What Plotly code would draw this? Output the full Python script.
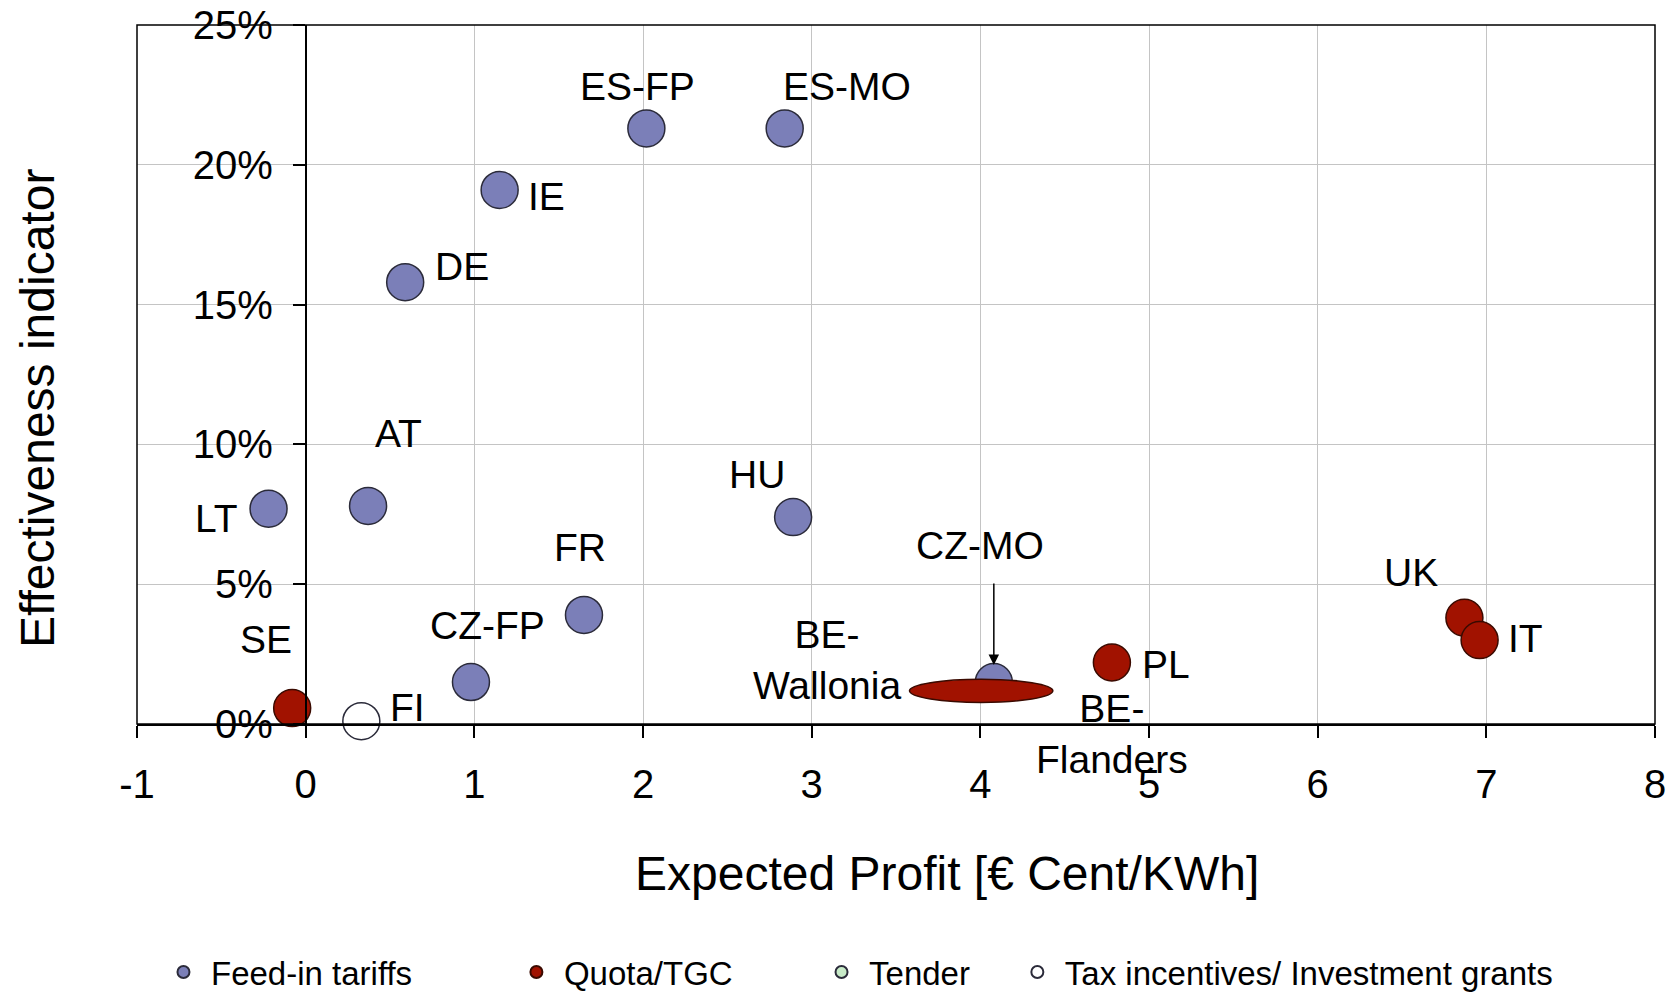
import plotly.graph_objects as go

# ---------------- data ----------------
fit_names = ["ES-FP", "ES-MO", "IE", "DE", "AT", "LT", "HU", "FR", "CZ-FP", "CZ-MO"]
fit_profit = [2.02, 2.84, 1.15, 0.59, 0.37, -0.22, 2.89, 1.65, 0.98, 4.08]
fit_effect = [0.213, 0.213, 0.191, 0.158, 0.078, 0.077, 0.074, 0.039, 0.015, 0.015]

quota_names = ["SE", "PL", "UK", "IT"]
quota_profit = [-0.08, 4.78, 6.87, 6.96]
quota_effect = [0.0057, 0.022, 0.038, 0.030]

tax_names = ["FI"]
tax_profit = [0.33]
tax_effect = [0.001]

# BE regions (Quota/TGC) drawn as one elongated ellipse spanning this range
be_names = ["BE-<br>Wallonia", "BE-<br>Flanders"]
be_profit_range = [3.58, 4.43]
be_effect_range = [0.0077, 0.016]

x_ticks = [-1, 0, 1, 2, 3, 4, 5, 6, 7, 8]
x_ticktext = ["-1", "0", "1", "2", "3", "4", "5", "6", "7", "8"]
y_ticks = [0, 0.05, 0.10, 0.15, 0.20, 0.25]

legend_names = ["Feed-in tariffs", "Quota/TGC", "Tender", "Tax incentives/ Investment grants"]

# ---------------- styles ----------------
FONT = "Liberation Sans, Arial, sans-serif"
C_FIT = "#7b7fb8"
C_QUOTA = "#a11200"
C_TENDER = "#c8ebc8"
C_TAX = "#ffffff"
EDGE = "#2b2b3a"
MSIZE = 37
LBL = 39

# label pixel offsets (dx, dy) relative to each point
label_off = {
    "ES-FP": (-9, 42), "ES-MO": (62, 42), "IE": (47, -7), "DE": (57, 16),
    "AT": (30, 72), "LT": (-52, -10), "HU": (-36, 43), "FR": (-4, 67),
    "CZ-FP": (17, 57), "SE": (-26, 69), "FI": (46, 14), "PL": (54, -2),
    "UK": (-53, 45), "IT": (46, 2), "CZ-MO": (-14, 137),
}
be_label_off = [(-154, 31), (131, -43)]

fig = go.Figure()

fig.add_trace(go.Scatter(
    x=fit_profit, y=fit_effect, mode="markers", name=legend_names[0],
    marker=dict(size=MSIZE, color=C_FIT, line=dict(color=EDGE, width=1.5)),
    cliponaxis=False, legend="legend"))
fig.add_trace(go.Scatter(
    x=quota_profit, y=quota_effect, mode="markers", name=legend_names[1],
    marker=dict(size=MSIZE, color=C_QUOTA, line=dict(color="#3a0a00", width=1.5)),
    cliponaxis=False, legend="legend2"))
fig.add_trace(go.Scatter(
    x=[None], y=[None], mode="markers", name=legend_names[2],
    marker=dict(size=MSIZE, color=C_TENDER, line=dict(color=EDGE, width=1.5)),
    legend="legend3"))
fig.add_trace(go.Scatter(
    x=tax_profit, y=tax_effect, mode="markers", name=legend_names[3],
    marker=dict(size=MSIZE, color=C_TAX, line=dict(color=EDGE, width=1.5)),
    cliponaxis=False, legend="legend4"))

annotations = []
for names, xs, ys in [(fit_names, fit_profit, fit_effect),
                      (quota_names, quota_profit, quota_effect),
                      (tax_names, tax_profit, tax_effect)]:
    for n, xv, yv in zip(names, xs, ys):
        dx, dy = label_off[n]
        annotations.append(dict(x=xv, y=yv, xref="x", yref="y", text=n,
                                showarrow=False, xshift=dx, yshift=dy,
                                font=dict(size=LBL, color="black", family=FONT)))

be_cx = sum(be_profit_range) / 2
be_cy = sum(be_effect_range) / 2
for n, (dx, dy) in zip(be_names, be_label_off):
    annotations.append(dict(x=be_cx, y=be_cy, xref="x", yref="y", text=n,
                            showarrow=False, xshift=dx, yshift=dy, align="center",
                            font=dict(size=LBL, color="black", family=FONT)))

# arrow pointing at CZ-MO
cz_i = fit_names.index("CZ-MO")
annotations.append(dict(x=fit_profit[cz_i], y=fit_effect[cz_i], xref="x", yref="y",
                        text="", showarrow=True, arrowhead=2, arrowsize=1.4,
                        arrowwidth=1.5, arrowcolor="black", standoff=17,
                        ax=0, ay=-100))

L, R, T, B = 137, 20, 25, 273
W, H = 1675, 997
pw = W - L - R
ph = H - T - B

# axis titles
annotations.append(dict(x=(37 - L) / pw, y=(724 - 409) / ph, xref="paper", yref="paper",
                        text="Effectiveness indicator", showarrow=False, textangle=-90,
                        xanchor="center", yanchor="middle",
                        font=dict(size=48, color="black", family=FONT)))
annotations.append(dict(x=(947 - L) / pw, y=(724 - 874) / ph, xref="paper", yref="paper",
                        text="Expected Profit [€ Cent/KWh]", showarrow=False,
                        xanchor="center", yanchor="middle",
                        font=dict(size=48, color="black", family=FONT)))

shapes = [
    dict(type="circle", xref="x", yref="y",
         x0=be_profit_range[0], x1=be_profit_range[1],
         y0=be_effect_range[0], y1=be_effect_range[1],
         fillcolor=C_QUOTA, line=dict(color="#3a0a00", width=1.5), layer="above"),
    dict(type="rect", xref="x domain", yref="y domain", x0=0, x1=1, y0=0, y1=1,
         line=dict(color="black", width=1.5), layer="above"),
]

fig.update_layout(
    width=W, height=H,
    margin=dict(l=L, r=R, t=T, b=B, autoexpand=False),
    paper_bgcolor="white", plot_bgcolor="white",
    font=dict(family=FONT, color="black"),
    annotations=annotations, shapes=shapes,
    xaxis=dict(range=[-1, 8], tickvals=x_ticks, ticktext=x_ticktext, showgrid=True,
               gridcolor="#c4c4c4", gridwidth=1, zeroline=False, showline=True,
               linecolor="black", linewidth=1.5,
               ticks="outside", ticklen=12, tickcolor="black", tickwidth=1.5,
               tickfont=dict(size=40, family=FONT), ticklabelstandoff=12),
    yaxis=dict(range=[0, 0.25], tickvals=y_ticks, tickformat=".0%", showgrid=True,
               gridcolor="#c4c4c4", gridwidth=1, zeroline=False, showline=True,
               linecolor="black", linewidth=1.5, anchor="free", position=1/9,
               ticks="outside", ticklen=12, tickcolor="black", tickwidth=1.5,
               tickfont=dict(size=40, family=FONT), ticklabelstandoff=12),
    showlegend=True,
)

leg_y = (724 - 972) / ph
leg_common = dict(orientation="h", yanchor="middle", y=leg_y, xanchor="left",
                  font=dict(size=33, family=FONT), bgcolor="rgba(0,0,0,0)",
                  itemsizing="constant", itemwidth=45)
fig.update_layout(
    legend=dict(x=0.0125, **leg_common),
    legend2=dict(x=0.245, **leg_common),
    legend3=dict(x=0.446, **leg_common),
    legend4=dict(x=0.575, **leg_common),
)

fig.write_html("out.html", config={"displayModeBar": False},
               post_script="document.body.style.margin='0px';")
